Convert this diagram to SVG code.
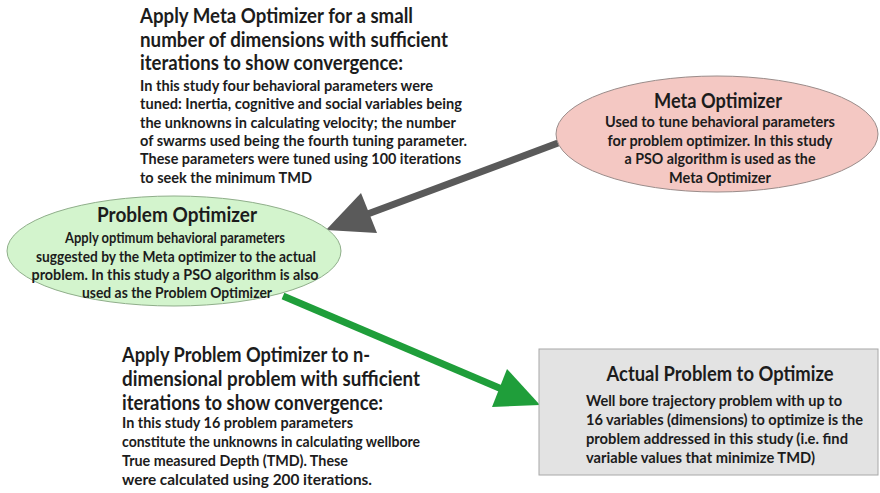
<svg xmlns="http://www.w3.org/2000/svg" width="880" height="493" viewBox="0 0 880 493">
<style>
text{font-family:Lato,"Open Sans","Liberation Sans",sans-serif;font-weight:700;fill:#1c1c1c}
.h{font-size:20.5px}
.s{font-size:15.3px}
.t{font-size:20.5px;text-anchor:middle}
.b{font-size:15.3px;text-anchor:middle}
</style>
<rect width="880" height="493" fill="#ffffff"/>
<g id="connectors">
<line x1="558" y1="143" x2="365" y2="215" stroke="#5a5a5a" stroke-width="7"/>
<polygon points="326,230 361,193 377,233" fill="#5a5a5a"/>
<line x1="283" y1="296" x2="504" y2="390" stroke="#1f9e3a" stroke-width="7"/>
<polygon points="540,405 507,369 492,407" fill="#1f9e3a"/>
</g>
<g id="meta-optimizer">
<ellipse cx="717" cy="134" rx="161" ry="58" fill="#f4c8c3" stroke="#9a8c8a" stroke-width="1"/>
<text class="t" x="718" y="108" textLength="128" lengthAdjust="spacingAndGlyphs">Meta Optimizer</text>
<text class="b" x="720" y="127" textLength="230" lengthAdjust="spacingAndGlyphs">Used to tune behavioral parameters</text>
<text class="b" x="720" y="146" textLength="225" lengthAdjust="spacingAndGlyphs">for problem optimizer. In this study</text>
<text class="b" x="720" y="164" textLength="191" lengthAdjust="spacingAndGlyphs">a PSO algorithm is used as the</text>
<text class="b" x="720" y="183" textLength="102" lengthAdjust="spacingAndGlyphs">Meta Optimizer</text>
</g>
<g id="problem-optimizer">
<ellipse cx="174" cy="251" rx="167" ry="55" fill="#d3f4cd" stroke="#8fae8a" stroke-width="1"/>
<text class="t" x="177" y="222" textLength="160" lengthAdjust="spacingAndGlyphs">Problem Optimizer</text>
<text class="b" x="175" y="243" textLength="220" lengthAdjust="spacingAndGlyphs">Apply optimum behavioral parameters</text>
<text class="b" x="176" y="262" textLength="280" lengthAdjust="spacingAndGlyphs">suggested by the Meta optimizer to the actual</text>
<text class="b" x="175" y="280" textLength="287" lengthAdjust="spacingAndGlyphs">problem. In this study a PSO algorithm is also</text>
<text class="b" x="177" y="298" textLength="190" lengthAdjust="spacingAndGlyphs">used as the Problem Optimizer</text>
</g>
<g id="actual-problem">
<rect x="539" y="349" width="339" height="126" fill="#e3e3e3" stroke="#a8a8a8" stroke-width="1"/>
<text class="t" x="720" y="381" textLength="227" lengthAdjust="spacingAndGlyphs">Actual Problem to Optimize</text>
<text class="s" x="586" y="406" textLength="256" lengthAdjust="spacingAndGlyphs">Well bore trajectory problem with up to</text>
<text class="s" x="586" y="425" textLength="277" lengthAdjust="spacingAndGlyphs">16 variables (dimensions) to optimize is the</text>
<text class="s" x="586" y="444" textLength="262" lengthAdjust="spacingAndGlyphs">problem addressed in this study (i.e. find</text>
<text class="s" x="586" y="463" textLength="229" lengthAdjust="spacingAndGlyphs">variable values that minimize TMD)</text>
</g>
<g id="meta-step-note">
<text class="h" x="140" y="23" textLength="273" lengthAdjust="spacingAndGlyphs">Apply Meta Optimizer for a small</text>
<text class="h" x="140" y="47" textLength="308" lengthAdjust="spacingAndGlyphs">number of dimensions with sufficient</text>
<text class="h" x="140" y="70" textLength="263" lengthAdjust="spacingAndGlyphs">iterations to show convergence:</text>
<text class="s" x="140" y="91" textLength="293" lengthAdjust="spacingAndGlyphs">In this study four behavioral parameters were</text>
<text class="s" x="140" y="109" textLength="322" lengthAdjust="spacingAndGlyphs">tuned: Inertia, cognitive and social variables being</text>
<text class="s" x="140" y="128" textLength="316" lengthAdjust="spacingAndGlyphs">the unknowns in calculating velocity; the number</text>
<text class="s" x="140" y="146" textLength="327" lengthAdjust="spacingAndGlyphs">of swarms used being the fourth tuning parameter.</text>
<text class="s" x="140" y="164" textLength="321" lengthAdjust="spacingAndGlyphs">These parameters were tuned using 100 iterations</text>
<text class="s" x="140" y="183" textLength="172" lengthAdjust="spacingAndGlyphs">to seek the minimum TMD</text>
</g>
<g id="problem-step-note">
<text class="h" x="122" y="362" textLength="248" lengthAdjust="spacingAndGlyphs">Apply Problem Optimizer to n-</text>
<text class="h" x="122" y="386" textLength="298" lengthAdjust="spacingAndGlyphs">dimensional problem with sufficient</text>
<text class="h" x="122" y="410" textLength="261" lengthAdjust="spacingAndGlyphs">iterations to show convergence:</text>
<text class="s" x="122" y="428" textLength="231" lengthAdjust="spacingAndGlyphs">In this study 16 problem parameters</text>
<text class="s" x="122" y="447" textLength="298" lengthAdjust="spacingAndGlyphs">constitute the unknowns in calculating wellbore</text>
<text class="s" x="122" y="466" textLength="226" lengthAdjust="spacingAndGlyphs">True measured Depth (TMD). These</text>
<text class="s" x="122" y="485" textLength="250" lengthAdjust="spacingAndGlyphs">were calculated using 200 iterations.</text>
</g>
</svg>
